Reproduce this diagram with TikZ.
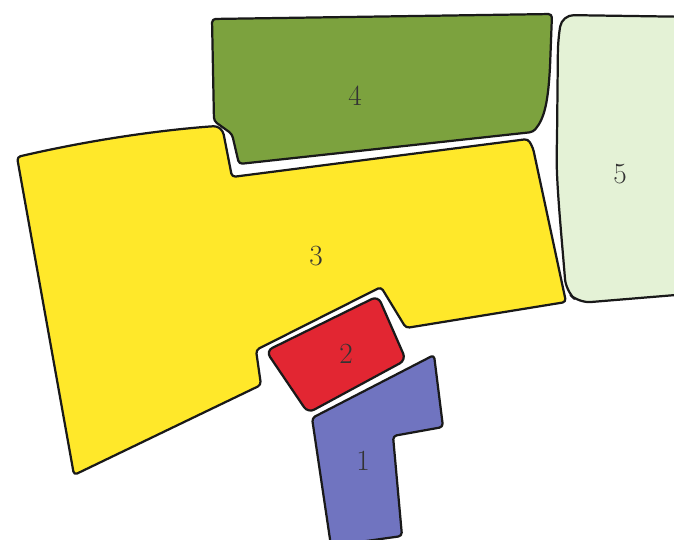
\documentclass[tikz,border=0pt]{standalone}
\usepackage{tikz}
\usetikzlibrary{positioning}
\definecolor{plotgreen}{RGB}{124,162,62}
\definecolor{plotyellow}{RGB}{255,232,42}
\definecolor{plotred}{RGB}{226,38,50}
\definecolor{plotblue}{RGB}{112,116,192}
\definecolor{plotpale}{RGB}{228,242,214}
\tikzset{
    % Basic parcel outline (hand drawn look)
    parcel/.style={
        draw=black!90, line width=1.9pt,
        line join=round, rounded corners=3pt
    },
    % Coloured parcels
    greenparcel/.style={parcel, fill=plotgreen},
    yellowparcel/.style={parcel, fill=plotyellow},
    redparcel/.style={parcel, fill=plotred, rounded corners=6pt},
    blueparcel/.style={parcel, fill=plotblue},
    paleparcel/.style={parcel, fill=plotpale, rounded corners=10pt},
    % Parcel number
    plotlabel/.style={font=\fontsize{25}{29}\selectfont, text=black!80, inner sep=0pt},
}
\begin{document}
\begin{tikzpicture}[x=0.03cm,y=-0.03cm]
      \clip (0,0) rectangle (674,540);
      % parcel 5, cut at the right border
      \draw[paleparcel] (562,15) -- (700,17) -- (700,293) -- (579,303)
            -- (566,291) .. controls (561,230) and (556,180) .. (557,140) -- (558,40) -- cycle;
      % parcel 4
      \draw[greenparcel] (212,19) -- (552,14) -- (550,67)
            .. controls (548,100) and (545,118) .. (533,132)
            -- (239,164) -- (232,134) -- (214,121) -- cycle;
      % parcel 3
      \draw[yellowparcel] (17,157) .. controls (90,140) and (160,130) .. (217,126)
            -- (223,131) -- (232,177) -- (528,139) -- (533,148) -- (566,302)
            -- (406,328) -- (381,287) -- (256,350) -- (261,385) -- (74,475) -- cycle;
      % parcel 2
      \draw[redparcel] (266,351) -- (378,296) -- (406,360) -- (308,413) -- cycle;
      % parcel 1
      \draw[blueparcel] (312,418) -- (434,355) -- (443,427) -- (393,436)
            -- (402,536) -- (331,546) -- cycle;
      % numbers
      \node[plotlabel] (n1) at (363,461) {1};
      \node[plotlabel] (n2) at (346,354) {2};
      \node[plotlabel] (n3) at (316,256) {3};
      \node[plotlabel] (n4) at (355,96) {4};
      \node[plotlabel] (n5) at (620,174) {5};
\end{tikzpicture}
\end{document}
